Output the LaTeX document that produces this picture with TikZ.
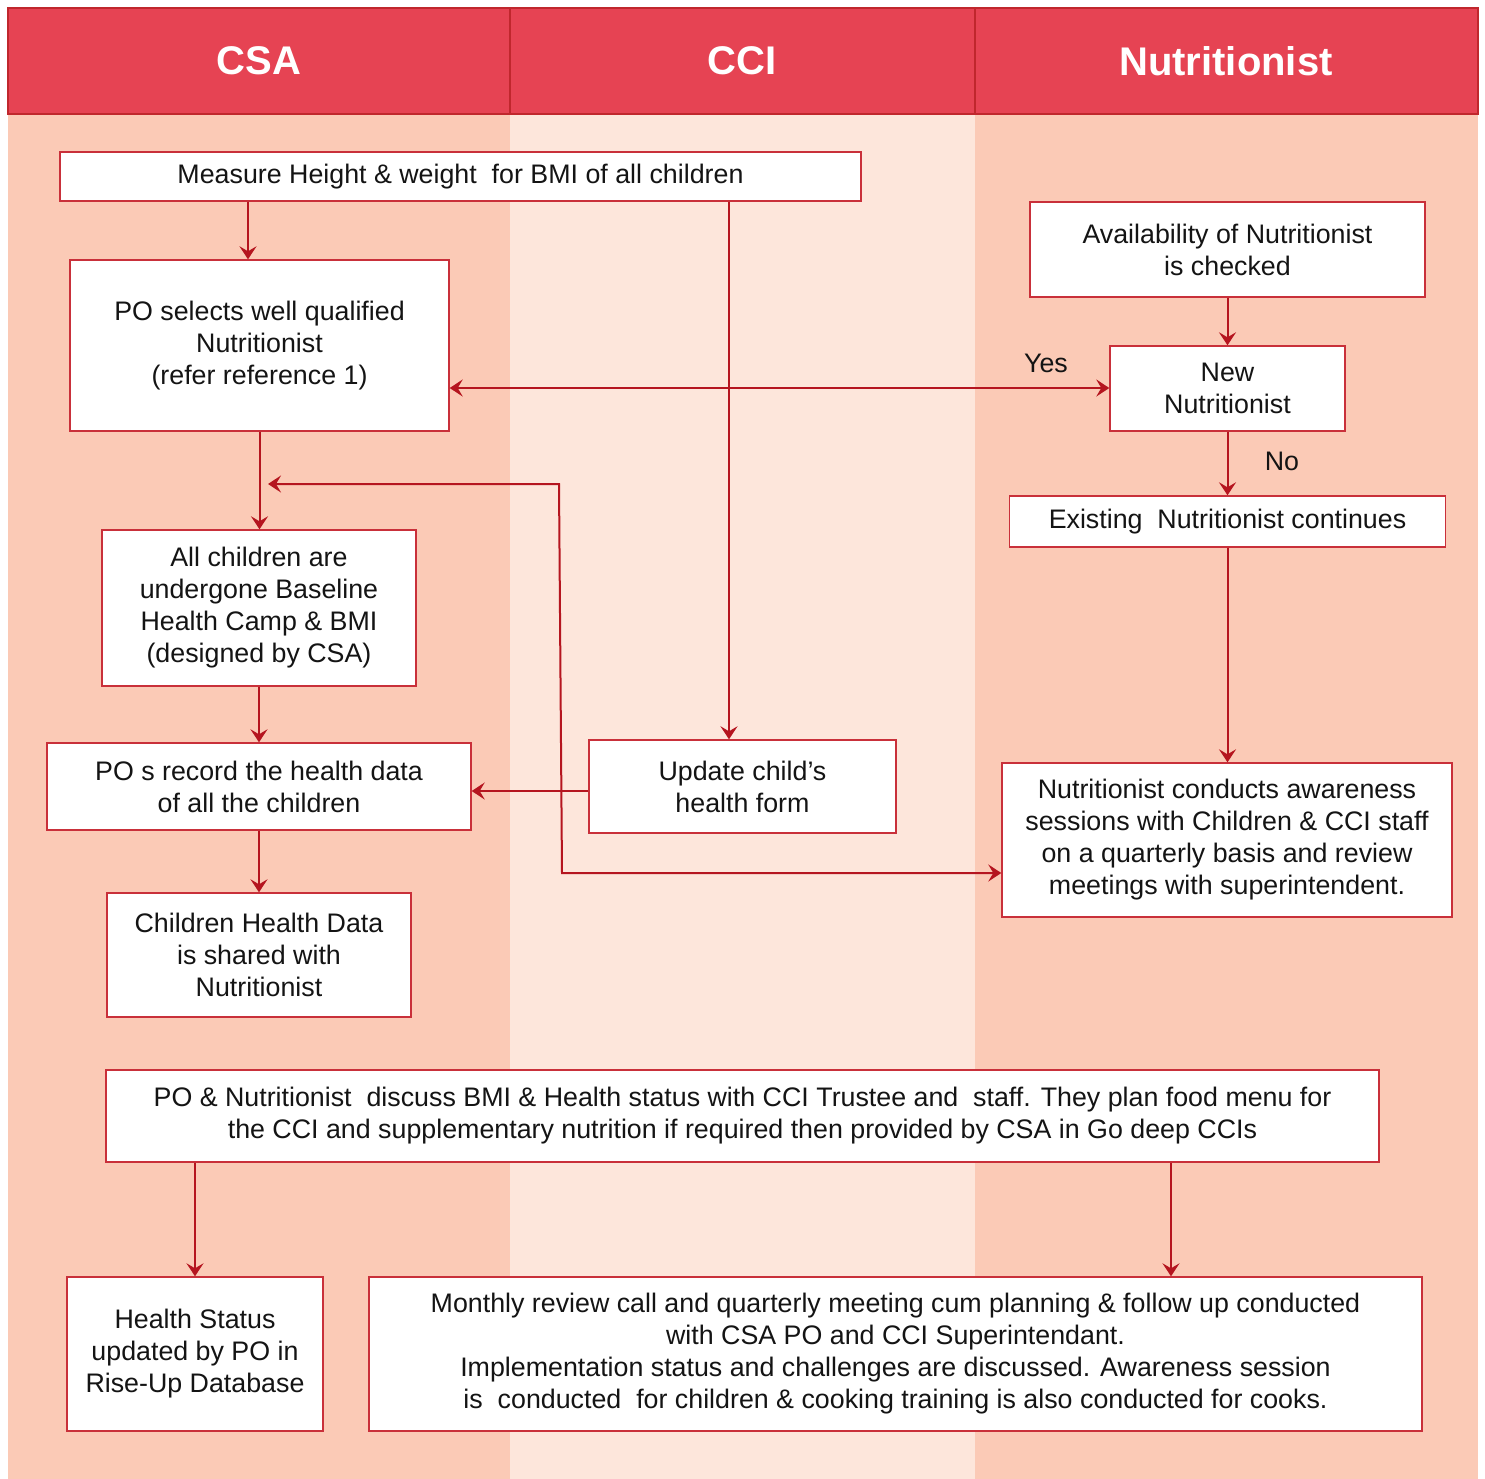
\documentclass[tikz,border=0pt]{standalone}
\usepackage{fontspec}
\setmainfont{Liberation Sans}
\usetikzlibrary{arrows.meta}
\definecolor{hdr}{HTML}{E64353}
\definecolor{hdrline}{HTML}{C0272D}
\definecolor{laneA}{HTML}{FBCAB6}
\definecolor{laneB}{HTML}{FDE6DB}
\definecolor{conn}{HTML}{B5151F}
\definecolor{boxline}{HTML}{C9303A}
\definecolor{txt}{HTML}{141414}
\tikzset{
  box/.style={draw=boxline, line width=0.7pt, fill=white, rectangle, inner sep=0pt, align=center,
    text=txt, font=\fontsize{13.4}{16}\selectfont},
  arr/.style={draw=conn, line width=1pt, -{Stealth[length=6.5pt,width=8.5pt,inset=2.5pt]}},
  arrboth/.style={draw=conn, line width=1pt, {Stealth[length=6.5pt,width=8.5pt,inset=2.5pt]}-{Stealth[length=6.5pt,width=8.5pt,inset=2.5pt]}},
  lbl/.style={text=txt, font=\fontsize{13.4}{16}\selectfont, inner sep=0pt},
  head/.style={text=white, font=\fontsize{20}{24}\selectfont\bfseries, inner sep=0pt}
}
\begin{document}
\begin{tikzpicture}[x=0.5pt,y=-0.5pt]
\useasboundingbox (0,0) rectangle (1485,1479);
% lanes
\fill[laneA] (8,114) rectangle (510,1479);
\fill[laneB] (510,114) rectangle (975,1479);
\fill[laneA] (975,114) rectangle (1478,1479);
% header
\fill[hdr] (8,8) rectangle (1478,114);
\draw[hdrline, line width=0.6pt] (8,8) rectangle (1478,114);
\draw[hdrline, line width=0.6pt] (510,8) -- (510,114);
\draw[hdrline, line width=0.6pt] (975,8) -- (975,114);
\node[head] (hcsa) at (259,61) {CSA};
\node[head] (hcci) at (742,61) {CCI};
\node[head] (hnut) at (1226,61) {Nutritionist};

% boxes
\node[box, minimum width=400.5pt, minimum height=24.5pt] (measure) at (460.5,176.5) {Measure Height \& weight\ \ for BMI of all children};
\node[box, minimum width=189.5pt, minimum height=85.5pt] (po) at (259.5,345.5) {PO selects well qualified\\Nutritionist\\(refer reference 1)};
\node[box, minimum width=197.5pt, minimum height=47.5pt] (avail) at (1227.5,249.5) {Availability of Nutritionist\\is checked};
\node[box, minimum width=117.5pt, minimum height=42.5pt] (new) at (1227.5,388.5) {New\\Nutritionist};
\node[box, minimum width=218pt, minimum height=25.5pt] (exist) at (1227.5,521.5) {Existing\ \ Nutritionist continues};
\node[box, minimum width=157pt, minimum height=78pt] (all) at (259,608) {All children are\\undergone Baseline\\Health Camp \& BMI\\(designed by CSA)};
\node[box, minimum width=212pt, minimum height=43.5pt] (record) at (259,786.5) {PO s record the health data\\of all the children};
\node[box, minimum width=153.5pt, minimum height=46.5pt] (update) at (742.5,786.5) {Update child’s\\health form};
\node[box, minimum width=225pt, minimum height=77pt] (conduct) at (1227,840) {Nutritionist conducts awareness\\sessions with Children \& CCI staff\\on a quarterly basis and review\\meetings with superintendent.};
\node[box, minimum width=152pt, minimum height=62pt] (shared) at (259,955) {Children Health Data\\is shared with\\Nutritionist};
\node[box, minimum width=636.5pt, minimum height=46pt] (discuss) at (742.5,1116) {PO \& Nutritionist\ \ discuss BMI \& Health status with CCI Trustee and\ \ staff. They plan food menu for\\the CCI and supplementary nutrition if required then provided by CSA in Go deep CCIs};
\node[box, minimum width=128pt, minimum height=77pt] (health) at (195,1354) {Health Status\\updated by PO in\\Rise-Up Database};
\node[box, minimum width=526.5pt, minimum height=77pt] (monthly) at (895.5,1354) {Monthly review call and quarterly meeting cum planning \& follow up conducted\\with CSA PO and CCI Superintendant.\\Implementation status and challenges are discussed. Awareness session\\is\ \ conducted\ \ for children \& cooking training is also conducted for cooks.};

% helper coordinates
\coordinate (c1) at (248,0);
\coordinate (c2) at (729,0);
\coordinate (c3) at (1171,0);
\coordinate (cy) at (0,388);
\coordinate (j) at (268,484);
\coordinate (b1) at (559,484);
\coordinate (b2) at (562,873);

% connectors
\draw[arr] (measure.south -| c1) -- (po.north -| c1);
\draw[arr] (measure.south -| c2) -- (update.north -| c2);
\draw[arrboth] (po.east |- cy) -- (new.west |- cy);
\draw[arr] (avail.south) -- (new.north);
\draw[arr] (new.south) -- (exist.north -| new.south);
\draw[arr] (exist.south -| new.south) -- (conduct.north -| new.south);
\draw[arr] (po.south) -- (all.north -| po.south);
\draw[arrboth] (j) -- (b1) -- (b2) -- (conduct.west |- b2);
\draw[arr] (all.south) -- (record.north);
\draw[arr] (update.west |- 0,791) -- (record.east |- 0,791);
\draw[arr] (record.south) -- (shared.north);
\draw[arr] (discuss.south -| health.north) -- (health.north);
\draw[arr] (discuss.south -| c3) -- (monthly.north -| c3);

% labels
\node[lbl] (yes) at (1046,363) {Yes};
\node[lbl] (no) at (1282,461) {No};
\end{tikzpicture}
\end{document}
